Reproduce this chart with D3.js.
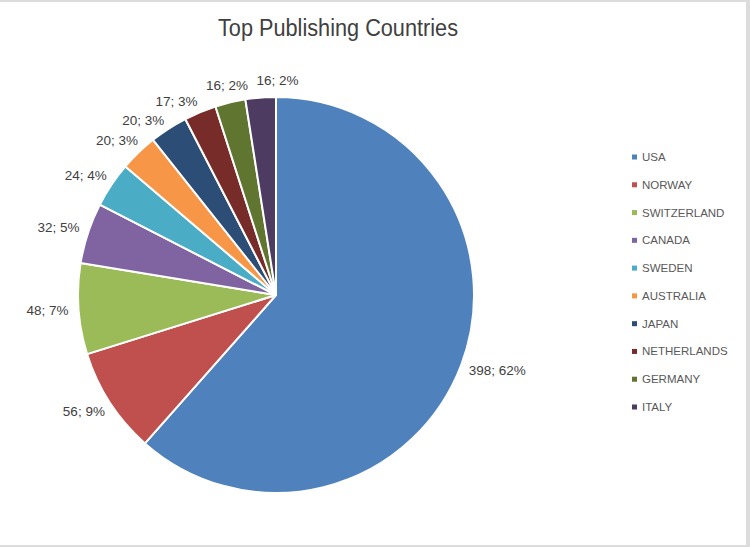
<!DOCTYPE html>
<html>
<head>
<meta charset="utf-8">
<script src="https://cdn.jsdelivr.net/npm/d3@7"></script>
<style>
  html, body { margin: 0; padding: 0; background: #ffffff; }
  svg { display: block; }
</style>
</head>
<body>
<svg id="chart" width="750" height="547"></svg>
<script>
const categories = ["USA", "NORWAY", "SWITZERLAND", "CANADA", "SWEDEN", "AUSTRALIA", "JAPAN", "NETHERLANDS", "GERMANY", "ITALY"];
const values = [398, 56, 48, 32, 24, 20, 20, 17, 16, 16];
const colors = ["#4F81BD", "#C0504D", "#9BBB59", "#8064A2", "#4BACC6", "#F79646", "#2C4D75", "#772C2A", "#5F7530", "#4D3B62"];
const title = "Top Publishing Countries";

const W = 750, H = 547;
const svg = d3.select("#chart");

// frame: light grey strips at top, right and bottom
svg.append("rect").attr("x", 0).attr("y", 0).attr("width", W).attr("height", H).attr("fill", "#dcdcdc");
svg.append("rect").attr("x", 0).attr("y", 2).attr("width", 746).attr("height", 543).attr("fill", "#ffffff");

svg.append("text")
  .attr("x", 338).attr("y", 36)
  .attr("text-anchor", "middle")
  .attr("font-family", "'Liberation Sans Narrow', 'Arial Narrow', 'Liberation Sans', sans-serif")
  .attr("font-size", 23)
  .attr("textLength", 240)
  .attr("lengthAdjust", "spacingAndGlyphs")
  .attr("fill", "#404040")
  .text(title);

const cx = 276, cy = 295, r = 198;
const total = d3.sum(values);
const data = categories.map((c, i) => ({ name: c, value: values[i], color: colors[i] }));

const pie = d3.pie().value(d => d.value).sort(null);
const arcs = pie(data);
const arc = d3.arc().innerRadius(0).outerRadius(r);

const g = svg.append("g").attr("transform", `translate(${cx},${cy})`);
g.selectAll("path.slice")
  .data(arcs)
  .join("path")
  .attr("class", "slice")
  .attr("d", arc)
  .attr("fill", d => d.data.color)
  .attr("stroke", "#ffffff")
  .attr("stroke-width", 2)
  .attr("stroke-linejoin", "round");

// data labels: "value; pct%", placed outside end with simple collision relaxation
const gap = 10, lh = 13;
const labels = g.selectAll("text.lbl")
  .data(arcs)
  .join("text")
  .attr("class", "lbl")
  .attr("font-family", "'Liberation Sans', Arial, sans-serif")
  .attr("font-size", 13.5)
  .attr("fill", "#404040")
  .attr("text-anchor", "middle")
  .attr("dominant-baseline", "central")
  .text(d => `${d.data.value}; ${Math.round(d.data.value / total * 100)}%`);

const L = [];
labels.each(function(d) {
  L.push({ node: this, w: this.getComputedTextLength(), a: (d.startAngle + d.endAngle) / 2 });
});
function box(l) {
  const s = Math.sin(l.a), c = Math.cos(l.a);
  const x = (r + gap) * s + s * l.w / 2;
  const y = -(r + gap) * c - c * lh / 2;
  return { x, y, x0: x - l.w / 2 - 4, x1: x + l.w / 2 + 4, y0: y - lh / 2 - 2.5, y1: y + lh / 2 + 2.5 };
}
const step = 0.2 * Math.PI / 180;
for (let it = 0; it < 600; it++) {
  let moved = false;
  for (let i = 0; i < L.length - 1; i++) {
    const b1 = box(L[i]), b2 = box(L[i + 1]);
    if (b1.x0 < b2.x1 && b2.x0 < b1.x1 && b1.y0 < b2.y1 && b2.y0 < b1.y1) {
      L[i].a -= step; L[i + 1].a += step; moved = true;
    }
  }
  if (!moved) break;
}
L.forEach(l => { const b = box(l); d3.select(l.node).attr("x", b.x).attr("y", b.y); });

// legend
const legY = d3.scalePoint().domain(categories).range([157, 407]);
const leg = svg.append("g");
const items = leg.selectAll("g.item").data(data).join("g").attr("class", "item")
  .attr("transform", d => `translate(632,${legY(d.name)})`);
items.append("rect").attr("x", 0).attr("y", -2.5).attr("width", 5).attr("height", 5).attr("fill", d => d.color);
items.append("text")
  .attr("x", 10).attr("y", 0)
  .attr("dominant-baseline", "central")
  .attr("font-family", "'Liberation Sans', Arial, sans-serif")
  .attr("font-size", 11.5)
  .attr("fill", "#595959")
  .text(d => d.name);
</script>
</body>
</html>
